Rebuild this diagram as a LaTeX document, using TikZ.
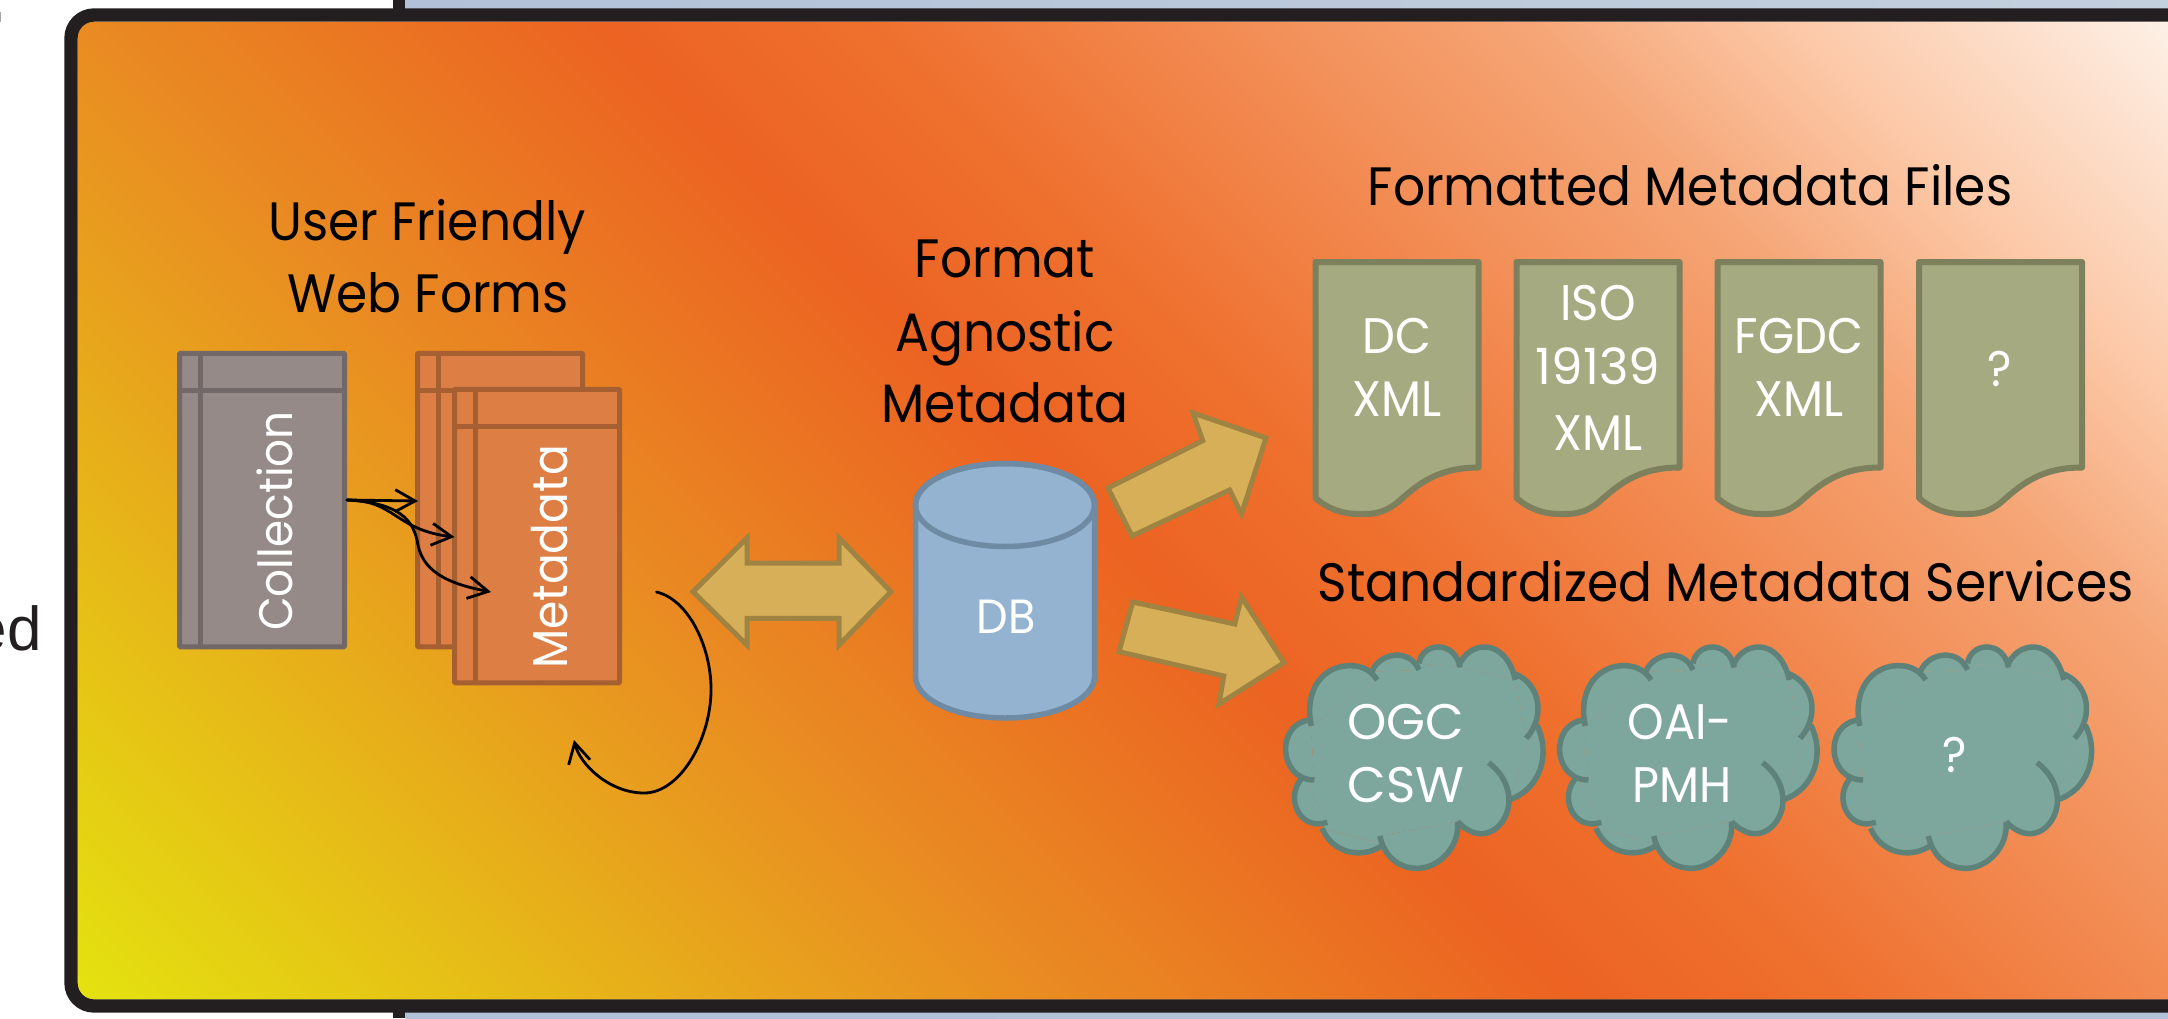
\documentclass[tikz,border=0pt]{standalone}
\usepackage{fontspec}
\usetikzlibrary{arrows.meta}
\setmainfont{Liberation Sans}
\newfontfamily\fut[FakeStretch=0.93]{Poppins}
\newfontfamily\futw[FakeStretch=1.0]{Poppins}
\definecolor{ink}{HTML}{231F20}
\definecolor{stripA}{HTML}{B2C1D8}
\definecolor{stripB}{HTML}{C3D0DE}
\definecolor{grayfill}{HTML}{958A88}
\definecolor{grayline}{HTML}{736868}
\definecolor{orfill}{HTML}{DD7E45}
\definecolor{orline}{HTML}{A55F30}
\definecolor{goldfill}{HTML}{D6AF58}
\definecolor{goldline}{HTML}{9F8342}
\definecolor{dbfill}{HTML}{94B3D0}
\definecolor{dbline}{HTML}{6F8AA3}
\definecolor{docfill}{HTML}{A5AA80}
\definecolor{docline}{HTML}{7C805D}
\definecolor{cloudfill}{HTML}{7DA69C}
\definecolor{cloudline}{HTML}{5E8279}
\pgfdeclarehorizontalshading{panelgrad}{2300bp}{
 rgb(0bp)=(0.894,0.890,0.059);
 rgb(700bp)=(0.914,0.541,0.133);
 rgb(1060bp)=(0.925,0.388,0.133);
 rgb(1250bp)=(0.937,0.440,0.180);
 rgb(1703bp)=(0.961,0.643,0.455);
 rgb(1900bp)=(0.988,0.788,0.659);
 rgb(2164bp)=(0.992,0.941,0.902)}
\tikzset{
 headtext/.style={font=\fut\fontsize{54}{54}\selectfont,text=black,anchor=base,inner sep=0pt},
 lighttext/.style={font=\fut\fontsize{50}{50}\selectfont,text=white,anchor=base,inner sep=0pt},
 widetext/.style={font=\futw\fontsize{50}{50}\selectfont,text=white,anchor=base,inner sep=0pt},
 midtext/.style={font=\fut\fontsize{48}{48}\selectfont,text=white,anchor=base,inner sep=0pt},
 storeg/.style={draw=grayline,fill=grayfill,line width=5pt,rounded corners=1pt,minimum width=165pt,minimum height=293.5pt,inner sep=0pt},
 storeo/.style={draw=orline,fill=orfill,line width=5pt,rounded corners=1pt,minimum width=165pt,minimum height=293.5pt,inner sep=0pt},
 bigarrow/.style={draw=goldline,fill=goldfill,line width=5pt,line join=miter},
 docshape/.style={draw=docline,fill=docfill,line width=6pt,line join=round},
 link/.style={draw=black,line width=2.8pt,line cap=round,-{Straight Barb[length=20pt,width=22pt]}},
}
\newcommand\docat[1]{\begin{scope}[shift={(#1,0)}]
 \path[docshape] (1315.5,262) -- (1478.5,262) -- (1478.5,467.5) .. controls (1438,467.5) and (1418,484) .. (1398,502) .. controls (1382,515) and (1370,514) .. (1358,514) .. controls (1343,514) and (1328,509) .. (1315.5,498) -- cycle;
\end{scope}}
\newcommand\cloudat[1]{\begin{scope}[shift={(#1,620)},x=0.5357pt,y=-0.3333pt]
 \fill[cloudfill] (77,318) -- (200,180) -- (190,155) -- (278,150) -- (278,130) -- (355,142) -- (352,140) -- (458,180) -- (455,160) -- (478,355) -- (498,315) -- (445,540) -- (350,605) -- (205,648) -- (213,672) -- (97,625) -- (107,607) -- (62,470) -- (83,480) -- (75,300) -- cycle;
 \draw[cloudline,fill=cloudfill,line width=5.5pt]
  (77,318) .. controls (62,200) and (105,135) .. (150,137) .. controls (175,137) and (190,155) .. (200,180)
  (190,155) .. controls (205,95) and (262,85) .. (278,150)
  (278,130) .. controls (285,65) and (345,60) .. (355,142)
  (352,140) .. controls (370,60) and (440,50) .. (458,180)
  (455,160) .. controls (505,190) and (515,290) .. (478,355)
  (498,315) .. controls (525,400) and (505,510) .. (445,540)
  (408,428) .. controls (435,460) and (450,510) .. (445,560) .. controls (438,625) and (395,680) .. (350,605)
  (350,605) .. controls (355,680) and (315,745) .. (275,745) .. controls (235,745) and (212,700) .. (205,648)
  (213,672) .. controls (180,715) and (120,710) .. (97,625)
  (107,607) .. controls (55,635) and (25,530) .. (62,470)
  (83,480) .. controls (15,480) and (10,310) .. (75,300);
\end{scope}}
\begin{document}
\begin{tikzpicture}[x=1pt,y=-1pt]
\useasboundingbox (0,0) rectangle (2168,1018);
% strips behind the panel
\fill[left color=stripA,right color=stripB] (405,0) rectangle (2168,12);
\fill[left color=stripA,right color=stripA!90!stripB] (405,1008) rectangle (2168,1018);
\fill[ink] (392.5,0) rectangle (405,12);
\fill[ink] (392.5,1008) rectangle (405,1018);
% text fragments at the left
\begin{scope}
 \clip (0,590) rectangle (60,680);
 \node[anchor=base east,inner sep=0pt,text=ink,font=\fontsize{62}{62}\selectfont] (edfrag) at (42,650) {ed};
\end{scope}
\fill[gray!70] (0,12) rectangle (1.2,22);
% panel
\begin{scope}
 \clip[rounded corners=16pt] (77.5,21.5) rectangle (2230,999.5);
 \node[rotate=45,inner sep=0pt] (panelshade) at (1120,510) {\pgfuseshading{panelgrad}};
\end{scope}
\draw[ink,line width=13.3pt,rounded corners=23pt] (71,15) rectangle (2230,1006);
% headings
\node[headtext] (h1a) at (427,240) {User Friendly};
\node[headtext] (h1b) at (428,312.5) {Web Forms};
\node[headtext] (h2a) at (1005,277) {Format};
\node[headtext] (h2b) at (1005,351) {Agnostic};
\node[headtext] (h2c) at (1005,422.5) {Metadata};
\node[headtext] (h3) at (1690,205) {Formatted Metadata Files};
\node[headtext] (h4) at (1725.5,601) {Standardized Metadata Services};
% storage boxes
\node[storeg] (coll) at (262,500) {};
\draw[grayline,line width=5pt] (200,353) -- (200,646.5) (179.5,390) -- (344.5,390);
\node[storeo] (mback) at (500,500) {};
\draw[orline,line width=5pt] (438,353) -- (438,646.5) (418,390) -- (582.5,390);
\node[storeo] (mfront) at (537,536) {};
\draw[orline,line width=5pt] (475,389.5) -- (475,682.5) (454.5,426.7) -- (619.5,426.7);
\node[rotate=90,anchor=center,inner sep=0pt,text=white,font=\fut\fontsize{47}{47}\selectfont] (colltext) at (275,521) {Collection};
\node[rotate=90,anchor=center,inner sep=0pt,text=white,font=\fut\fontsize{49}{49}\selectfont] (metatext) at (550,557) {Metadata};
% thin arrows
\coordinate (mA) at (418,501);
\coordinate (mB) at (454.5,537);
\coordinate (mC) at (491,592);
\coordinate (loopS) at (656.5,592);
\coordinate (loopE) at (574,740);
\draw[link] (coll.east) -- (mA);
\draw[link] (coll.east) .. controls (395,500) and (395,530) .. (mB);
\draw[link] (coll.east) .. controls (400,503) and (414,520) .. (418,545) .. controls (424,575) and (455,585) .. (mC);
\draw[link] (loopS) .. controls (690,600) and (712,650) .. (711,692) .. controls (710,740) and (680,793) .. (644,793) .. controls (610,793) and (580,765) .. (loopE);
% block arrows
\path[bigarrow] (693,591.7) -- (747,538) -- (747,563) -- (839,563) -- (839,538) -- (891,591.7) -- (839,645) -- (839,618.3) -- (747,618.3) -- (747,645) -- cycle;
\path[bigarrow] (1108,488) -- (1132,536) -- (1229.6,490) -- (1241.5,514) -- (1266,438) -- (1193,413) -- (1202.7,440.7) -- cycle;
\path[bigarrow] (1132.7,602) -- (1234.8,624) -- (1241.5,597) -- (1284,662.7) -- (1219,704) -- (1223.7,676) -- (1119,651.7) -- cycle;
% database
\draw[dbline,fill=dbfill,line width=5.5pt] (915.5,505) -- (915.5,676.5) arc[start angle=180,end angle=360,x radius=89.5pt,y radius=41.5pt] -- (1094.5,505) arc[start angle=0,end angle=180,x radius=89.5pt,y radius=41.5pt] -- cycle;
\draw[dbline,line width=5.5pt] (1005,505) ellipse [x radius=89.5pt,y radius=41.5pt];
\node[midtext] (db) at (1006,633) {DB};
% documents
\docat{0}\docat{201}\docat{402}\docat{603.5}
\node[lighttext] (d1a) at (1397,353) {DC};
\node[lighttext] (d1b) at (1397,416.5) {XML};
\node[lighttext] (d2a) at (1598,320) {ISO};
\node[widetext] (d2b) at (1598,384) {19139};
\node[lighttext] (d2c) at (1598,450) {XML};
\node[lighttext] (d3a) at (1799,353) {FGDC};
\node[lighttext] (d3b) at (1799,416.5) {XML};
\node[lighttext] (d4) at (2000,386) {?};
% clouds
\cloudat{1270}\cloudat{1544}\cloudat{1818.5}
\node[widetext] (c1a) at (1406,739) {OGC};
\node[widetext] (c1b) at (1406,802.5) {CSW};
\node[lighttext] (c2a) at (1680,739) {OAI-};
\node[lighttext] (c2b) at (1682,802.5) {PMH};
\node[lighttext] (c3) at (1954.5,772) {?};
\end{tikzpicture}
\end{document}
